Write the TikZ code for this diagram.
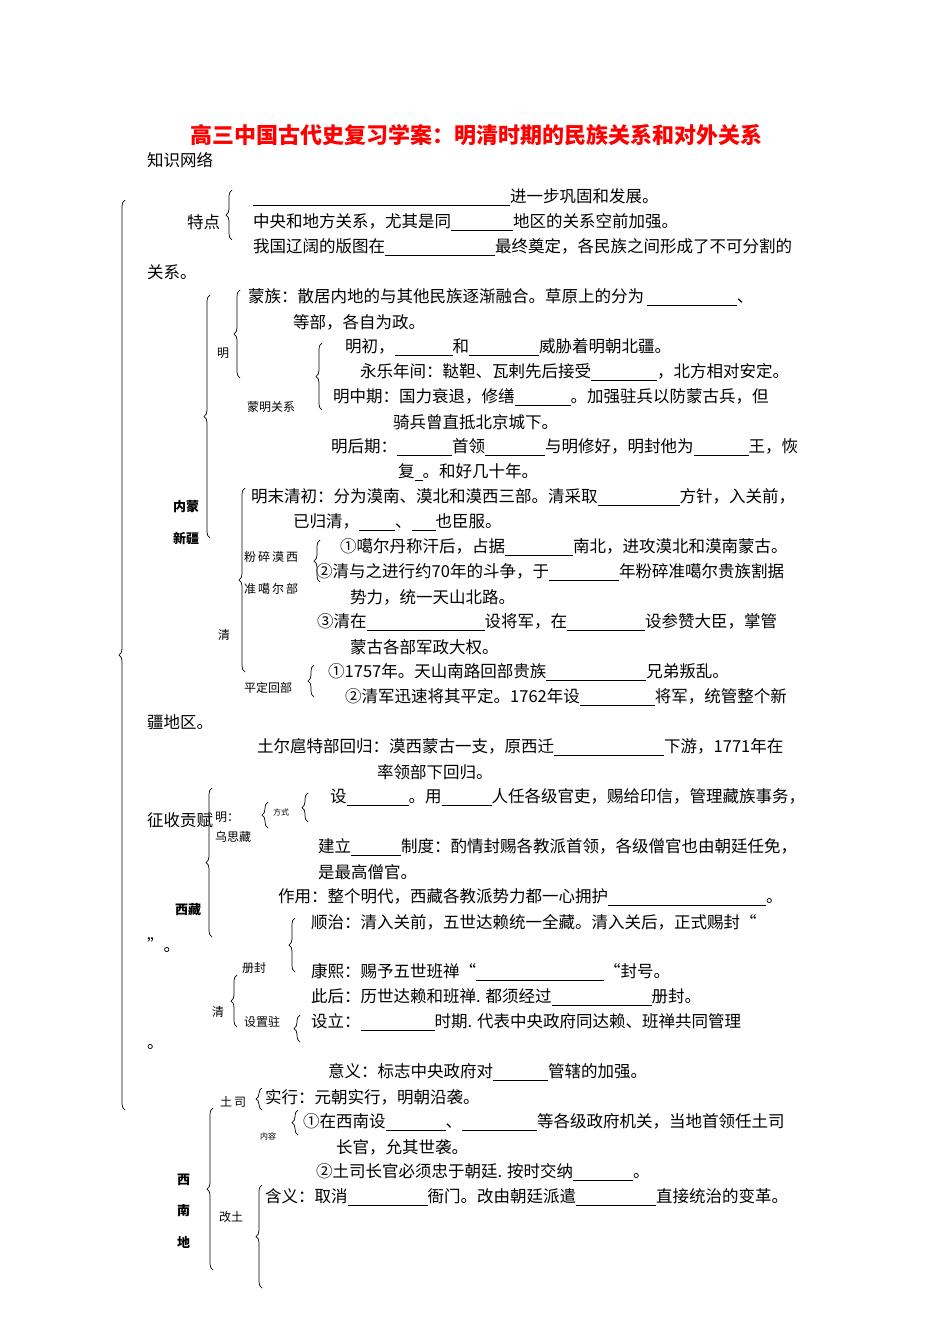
\documentclass[tikz,border=0pt]{standalone}
\usepackage{fontspec}
\setmainfont{Noto Sans CJK SC}
\usetikzlibrary{decorations.pathreplacing}
\newcommand\bl[1]{\rule[-3pt]{#1pt}{0.6pt}}
\newcommand\brc[3]{\draw[brc] (#1,#3) -- (#1,#2);}
\tikzset{
 t/.style={anchor=west,inner sep=0,font=\fontsize{16.5}{17}\selectfont},
 sm/.style={anchor=west,inner sep=0,font=\fontsize{12}{12}\selectfont},
 tiny/.style={anchor=west,inner sep=0,font=\fontsize{8}{8}\selectfont},
 bd/.style={anchor=west,inner sep=0,font=\fontsize{13}{13}\selectfont\bfseries},
 brc/.style={decorate,decoration={brace,amplitude=6pt},line width=0.7pt}
}
\begin{document}
\begin{tikzpicture}[x=1pt,y=-1pt]
\useasboundingbox[fill=white] (0,0) rectangle (950,1344);
\node[inner sep=0,text=red,font=\fontsize{22}{23}\selectfont\bfseries] (title) at (476,135) {高三中国古代史复习学案：明清时期的民族关系和对外关系};
\node[t] (kn) at (147,160) {知识网络};
\node[t] (td) at (187,222) {特点};
\node[t] (a1) at (253,197) {\bl{257}进一步巩固和发展。};
\node[t] (a2) at (253,222) {中央和地方关系，尤其是同\bl{62}地区的关系空前加强。};
\node[t] (a3) at (253,247) {我国辽阔的版图在\bl{110}最终奠定，各民族之间形成了不可分割的};
\node[t] (a4) at (147,272) {关系。};
\node[t] (b1) at (248,297) {蒙族：散居内地的与其他民族逐渐融合。草原上的分为\,\bl{90}、};
\node[t] (b2) at (293,322) {等部，各自为政。};
\node[sm] (ming1) at (217,353) {明};
\node[t] (b3) at (345,347) {明初，\bl{58}和\bl{70}威胁着明朝北疆。};
\node[t] (b4) at (360,372) {永乐年间：鞑靼、瓦剌先后接受\bl{66}，北方相对安定。};
\node[t] (b5) at (333,397) {明中期：国力衰退，修缮\bl{56}。加强驻兵以防蒙古兵，但};
\node[t] (b6) at (393,422) {骑兵曾直抵北京城下。};
\node[sm] (mmgx) at (247,407) {蒙明关系};
\node[t] (b7) at (331,447) {明后期：\bl{55}首领\bl{60}与明修好，明封他为\bl{55}王，恢};
\node[t] (b8) at (398,472) {复\bl{8}。和好几十年。};
\node[bd] (nm) at (173,507) {内蒙};
\node[bd] (xj) at (173,538) {新疆};
\node[t] (c1) at (251,497) {明末清初：分为漠南、漠北和漠西三部。清采取\bl{82}方针，入关前，};
\node[t] (c2) at (293,522) {已归清，\bl{36}、\bl{24}也臣服。};
\node[sm] (fs) at (244,557) {粉\,碎\,漠\,西};
\node[sm] (zg) at (244,589) {准\,噶\,尔\,部};
\node[t] (c3) at (340,547) {①噶尔丹称汗后，占据\bl{68}南北，进攻漠北和漠南蒙古。};
\node[t] (c4) at (316,572) {②清与之进行约70年的斗争，于\bl{70}年粉碎准噶尔贵族割据};
\node[t] (c5) at (350,597) {势力，统一天山北路。};
\node[t] (c6) at (317,622) {③清在\bl{118}设将军，在\bl{78}设参赞大臣，掌管};
\node[t] (c7) at (350,647) {蒙古各部军政大权。};
\node[sm] (qing1) at (218,635) {清};
\node[sm] (pd) at (244,688) {平定回部};
\node[t] (c8) at (328,672) {①1757年。天山南路回部贵族\bl{100}兄弟叛乱。};
\node[t] (c9) at (345,697) {②清军迅速将其平定。1762年设\bl{75}将军，统管整个新};
\node[t] (c10) at (147,722) {疆地区。};
\node[t] (c11) at (257,747) {土尔扈特部回归：漠西蒙古一支，原西迁\bl{110}下游，1771年在};
\node[t] (c12) at (377,772) {率领部下回归。};
\node[t] (zs) at (147,820) {征收贡赋};
\node[sm] (ming2) at (215,817) {明：};
\node[sm] (wsz) at (215,837) {乌思藏};
\node[tiny] (fs2) at (273,812) {方式};
\node[t] (d1) at (330,797) {设\bl{62}。用\bl{50}人任各级官吏，赐给印信，管理藏族事务，};
\node[t] (d2) at (318,847) {建立\bl{50}制度：酌情封赐各教派首领，各级僧官也由朝廷任免，};
\node[t] (d3) at (318,872) {是最高僧官。};
\node[t] (d4) at (278,897) {作用：整个明代，西藏各教派势力都一心拥护\bl{158}。};
\node[bd] (xz) at (175,910) {西藏};
\node[t] (d5) at (311,922) {顺治：清入关前，五世达赖统一全藏。清入关后，正式赐封“};
\node[t] (d6) at (147,945) {”。};
\node[sm] (cf) at (242,968) {册封};
\node[t] (d7) at (311,972) {康熙：赐予五世班禅“\bl{128}“封号。};
\node[t] (d8) at (311,997) {此后：历世达赖和班禅. 都须经过\bl{100}册封。};
\node[sm] (qing2) at (212,1012) {清};
\node[sm] (szz) at (244,1022) {设置驻};
\node[t] (d9) at (311,1022) {设立：\bl{74}时期. 代表中央政府同达赖、班禅共同管理};
\node[t] (d10) at (147,1047) {。};
\node[t] (d11) at (328,1072) {意义：标志中央政府对\bl{55}管辖的加强。};
\node[sm] (ts) at (220,1102) {土\,司};
\node[t] (e1) at (265,1097) {实行：元朝实行，明朝沿袭。};
\node[tiny] (nr) at (260,1136) {内容};
\node[t] (e2) at (303,1122) {①在西南设\bl{60}、\bl{75}等各级政府机关，当地首领任土司};
\node[t] (e3) at (336,1147) {长官，允其世袭。};
\node[t] (e4) at (316,1172) {②土司长官必须忠于朝廷. 按时交纳\bl{60}。};
\node[t] (e5) at (265,1197) {含义：取消\bl{80}衙门。改由朝廷派遣\bl{80}直接统治的变革。};
\node[sm] (gt) at (219,1217) {改土};
\node[bd] (x1) at (177,1180) {西};
\node[bd] (x2) at (177,1211) {南};
\node[bd] (x3) at (177,1242) {地};
% braces
\brc{125}{200}{1110}
\brc{232}{190}{240}
\brc{210}{295}{538}
\brc{240}{290}{378}
\brc{322}{343}{410}
\brc{245}{488}{672}
\brc{320}{540}{582}
\brc{314}{665}{697}
\brc{212}{788}{937}
\brc{268}{802}{828}
\brc{308}{793}{822}
\brc{295}{918}{972}
\brc{237}{975}{1027}
\brc{300}{1015}{1042}
\brc{213}{1108}{1270}
\brc{262}{1088}{1110}
\brc{298}{1110}{1135}
\brc{262}{1185}{1288}
\end{tikzpicture}
\end{document}
